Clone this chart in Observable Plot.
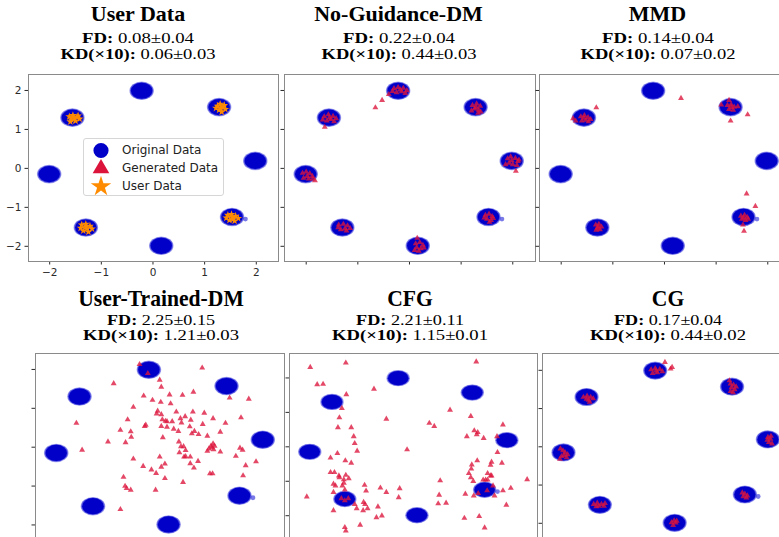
<!DOCTYPE html>
<html>
<head>
<meta charset="utf-8">
<script src="https://cdn.jsdelivr.net/npm/d3@7"></script>
<script src="https://cdn.jsdelivr.net/npm/@observablehq/plot@0.6"></script>
<style>
  html, body { margin: 0; padding: 0; background: white; }
  #root { position: relative; width: 779px; height: 537px; overflow: hidden; background: white; }
  .plotbox { position: absolute; }
  .tline { position: absolute; white-space: nowrap; font-family: "Liberation Serif", "Times New Roman", serif; color: #000; transform-origin: center; }
  .legend { position: absolute; background: rgba(255,255,255,0.85); border: 1px solid #d6d6d6; border-radius: 3px; box-sizing: border-box; font-family: "DejaVu Sans", sans-serif; font-size: 12px; color: #222; }
  .legend .item { position: absolute; left: 0; white-space: nowrap; }
</style>
</head>
<body>
<div id="root"></div>
<script>
// ---------- text ----------
const panelNames = ["User Data", "No-Guidance-DM", "MMD", "User-Trained-DM", "CFG", "CG"];
const fdValues = ["0.08±0.04", "0.22±0.04", "0.14±0.04", "2.25±0.15", "2.21±0.11", "0.17±0.04"];
const kdValues = ["0.06±0.03", "0.44±0.03", "0.07±0.02", "1.21±0.03", "1.15±0.01", "0.44±0.02"];
const legendLabels = ["Original Data", "Generated Data", "User Data"];
const tickValues = [-2, -1, 0, 1, 2];

// ---------- data ----------
// centres of the eight Gaussian modes of the original data
const clusterCenters = [[-0.21,1.98],[1.29,1.56],[1.99,0.18],[1.54,-1.26],[0.17,-2.0],[-1.29,-1.53],[-2.0,-0.16],[-1.55,1.29]];
const originalOutliers = [[1.79,-1.30]];

const userData = [
  [-1.62,1.33],[-1.55,1.36],[-1.47,1.32],[-1.42,1.27],[-1.58,1.25],[-1.50,1.22],[-1.60,1.20],[-1.45,1.35],[-1.53,1.29],
  [1.25,1.60],[1.30,1.65],[1.36,1.58],[1.40,1.52],[1.28,1.50],[1.33,1.45],[1.22,1.55],[1.38,1.62],[1.31,1.55],
  [1.45,-1.20],[1.52,-1.18],[1.60,-1.22],[1.65,-1.28],[1.55,-1.30],[1.48,-1.33],[1.58,-1.35],[1.42,-1.27],[1.53,-1.25],
  [-1.38,-1.45],[-1.30,-1.43],[-1.22,-1.48],[-1.18,-1.55],[-1.28,-1.55],[-1.35,-1.60],[-1.25,-1.63],[-1.40,-1.53],[-1.30,-1.50]
];

const genNoGuidance = [
  [-0.30,2.05],[-0.22,2.08],[-0.12,2.06],[-0.05,2.00],[-0.15,1.97],[-0.25,1.95],[-0.33,1.98],[-0.18,2.02],[-0.08,1.93],
  [-0.40,1.90],[-0.53,1.75],[-0.66,1.56],
  [1.22,1.62],[1.30,1.66],[1.37,1.60],[1.26,1.53],[1.34,1.50],[1.20,1.48],[1.38,1.45],[1.29,1.57],[1.33,1.42],
  [1.90,0.25],[1.96,0.30],[2.05,0.26],[2.10,0.18],[1.93,0.14],[2.00,0.10],[2.08,0.08],[1.98,0.20],[2.12,0.22],[2.06,-0.07],[1.86,0.10],
  [1.47,-1.20],[1.54,-1.17],[1.60,-1.23],[1.50,-1.30],[1.58,-1.33],[1.45,-1.27],[1.55,-1.38],[1.62,-1.28],
  [0.12,-1.93],[0.20,-1.90],[0.26,-1.97],[0.14,-2.03],[0.22,-2.06],[0.28,-2.04],[0.10,-2.10],[0.18,-2.12],[0.15,-1.79],
  [-1.37,-1.45],[-1.28,-1.43],[-1.20,-1.47],[-1.15,-1.54],[-1.25,-1.55],[-1.33,-1.57],[-1.22,-1.60],[-1.38,-1.52],
  [-2.07,-0.12],[-2.00,-0.09],[-1.93,-0.13],[-1.88,-0.20],[-1.98,-0.20],[-2.05,-0.25],[-1.95,-0.27],[-1.87,-0.27],[-1.83,-0.31],
  [-1.65,1.33],[-1.57,1.38],[-1.48,1.34],[-1.42,1.28],[-1.52,1.26],[-1.60,1.22],[-1.46,1.20],[-1.68,1.25],[-1.55,1.30],[-1.64,1.06]
];

const genMMD = [
  [-1.62,1.33],[-1.55,1.36],[-1.48,1.31],[-1.43,1.26],[-1.52,1.24],[-1.60,1.22],[-1.47,1.20],[-1.56,1.29],
  [-1.32,1.56],[-1.77,1.28],[-1.72,1.22],
  [1.22,1.62],[1.29,1.64],[1.35,1.58],[1.25,1.52],[1.33,1.50],[1.30,1.57],
  [1.25,1.75],[1.10,1.63],[1.42,1.59],[1.28,1.22],[1.61,1.38],[0.32,1.80],
  [1.48,-1.22],[1.55,-1.20],[1.60,-1.25],[1.50,-1.30],[1.57,-1.33],[1.53,-1.27],[1.62,-1.30],
  [1.59,-0.65],[1.76,-0.97],[1.54,-1.61],[1.52,-1.45],
  [-1.33,-1.45],[-1.27,-1.43],[-1.22,-1.50],[-1.30,-1.53],[-1.25,-1.57],[-1.32,-1.58],[-1.28,-1.50]
];

const genUserTrained = [
  [-0.40,2.13],[-0.24,1.90],[0.81,2.04],[-0.90,1.64],[-0.01,1.73],[0.02,1.55],[-0.32,1.32],[0.18,1.35],[0.43,1.34],[0.64,1.42],
  [1.34,1.27],[1.71,1.24],[-0.15,1.21],[0.01,1.16],[0.20,1.12],[-0.52,1.03],[-0.05,0.93],[-0.07,0.86],[0.02,0.84],[0.31,0.91],
  [0.63,0.91],[0.85,0.88],[-0.63,0.71],[0.04,0.71],[0.10,0.67],[0.13,0.66],[0.23,0.66],[0.39,0.74],[0.48,0.79],[0.59,0.70],
  [1.02,0.74],[1.26,0.62],[1.56,0.76],[-1.62,0.62],[-0.28,0.57],[-0.30,0.54],[0.02,0.54],[0.13,0.52],[0.26,0.47],[0.41,0.63],
  [0.57,0.53],[0.82,0.59],[-0.77,0.44],[-0.57,0.40],[0.35,0.41],[0.61,0.35],[0.66,0.41],[0.74,0.33],[0.91,0.29],[1.16,0.39],
  [-0.56,0.26],[0.05,0.25],[-1.01,0.14],[-0.67,0.12],[0.36,0.14],[0.40,0.02],[0.45,0.02],[1.02,0.09],[0.98,0.03],[0.94,-0.04],
  [0.91,-0.10],[1.03,-0.06],[1.16,-0.12],[-1.51,-0.07],[0.37,-0.14],[0.49,-0.08],[0.46,-0.25],[0.49,-0.24],[0.58,-0.25],[1.54,-0.02],
  [1.59,-0.07],[1.46,-0.23],[-0.52,-0.30],[-0.01,-0.25],[0.09,-0.43],[0.02,-0.51],[-0.33,-0.49],[-0.17,-0.58],[-0.08,-0.67],[0.58,-0.42],
  [0.73,-0.36],[0.65,-0.53],[0.96,-0.68],[1.01,-0.68],[1.65,-0.47],[1.85,-0.37],[1.60,-0.73],[-0.71,-0.77],[0.09,-0.80],[0.44,-0.90],
  [-0.68,-1.00],[-0.65,-1.06],[-0.57,-1.10],[-0.09,-1.10],[-0.77,-1.60],[1.00,-0.01],[1.05,0.03]
];

const genCFG = [
  [-2.00,2.31],[-1.28,2.44],[1.36,2.47],[-1.86,1.81],[-1.74,1.82],[-0.71,1.68],[-1.27,1.52],[-1.36,1.12],[-1.41,0.85],[-1.44,0.56],
  [-1.17,0.56],[-1.12,0.30],[-1.10,0.10],[-1.05,-0.12],[-1.59,-0.32],[-1.45,-0.19],[-1.29,-0.40],[-1.17,-0.47],[-0.46,0.81],[-0.04,-0.08],
  [0.41,0.69],[0.51,0.60],[0.83,1.07],[1.25,0.89],[1.32,0.47],[1.17,0.30],[1.37,0.36],[1.39,0.42],[1.51,0.25],[1.90,0.64],
  [1.78,0.30],[1.79,-0.16],[1.88,-0.47],[1.38,-0.40],[1.27,-0.52],[1.67,-0.44],[1.65,-0.53],[1.26,-0.64],[1.21,-0.77],[1.25,-0.89],
  [1.30,-1.00],[1.59,-0.77],[1.65,-0.84],[1.67,-0.84],[1.50,-0.96],[1.55,-0.96],[1.59,-0.96],[2.39,-0.95],[2.06,-1.20],[1.90,-1.27],
  [1.70,-1.13],[1.58,-1.27],[1.40,-1.35],[1.14,-1.37],[1.31,-1.42],[1.73,-1.42],[1.97,-1.69],[1.42,-2.02],[1.12,-2.07],[1.53,-2.35],
  [0.63,-0.98],[0.61,-1.40],[0.59,-1.65],[0.75,-1.63],[-0.19,-1.21],[-0.21,-1.47],[-0.46,-1.32],[-0.58,-1.19],[-0.90,-1.11],[-0.87,-1.28],
  [-0.63,-1.74],[-0.55,-2.00],[-0.66,-2.05],[-0.99,-2.27],[-1.59,-0.74],[-1.51,-0.74],[-1.42,-0.84],[-1.41,-0.89],[-1.28,-0.82],[-1.22,-0.92],
  [-1.32,-0.95],[-1.53,-1.08],[-1.49,-1.13],[-1.35,-1.13],[-1.32,-1.05],[-1.30,-1.25],[-1.53,-1.32],[-1.37,-1.50],[-1.30,-1.56],[-1.23,-1.50],
  [-1.10,-1.67],[-1.06,-1.79],[-0.92,-1.61],[-0.89,-1.67],[-0.84,-1.79],[-0.93,-1.85],[-1.53,-1.85],[-2.07,-1.45],[-1.30,-2.34],[-1.28,-2.44]
];

const genCG = [
  [-0.30,2.02],[-0.22,2.05],[-0.13,2.03],[-0.08,1.97],[-0.18,1.94],[-0.27,1.92],[-0.20,1.99],[-0.03,2.21],[0.11,2.08],[0.08,2.04],
  [1.25,1.65],[1.31,1.62],[1.27,1.55],[1.33,1.50],[1.25,1.45],[1.30,1.42],[1.36,1.57],[1.23,1.73],
  [1.98,0.25],[2.03,0.20],[2.00,0.12],[2.06,0.08],[2.04,0.28],[1.97,0.18],
  [1.48,-1.20],[1.53,-1.23],[1.58,-1.28],[1.50,-1.30],[1.56,-1.33],
  [0.15,-1.93],[0.10,-1.98],[0.18,-1.99],[0.13,-2.05],[0.20,-1.94],
  [-1.42,-1.50],[-1.35,-1.47],[-1.27,-1.50],[-1.20,-1.48],[-1.32,-1.55],[-1.22,-1.55],[-1.37,-1.56],
  [-2.07,-0.05],[-2.02,-0.10],[-1.98,-0.15],[-1.93,-0.20],[-2.00,-0.22],[-1.95,-0.28],[-2.05,-0.25],[-2.08,-0.32],
  [-1.62,1.30],[-1.55,1.33],[-1.48,1.30],[-1.43,1.26],[-1.52,1.22],[-1.56,1.25],[-1.50,1.17]
];

// ---------- colours ----------
const blueCore = "#0000c8", blueHalo = "#2020d8", genColor = "#dc143c", userColor = "#ff8c00";

// ---------- layout ----------
const M = {left: 30, right: 4, top: 4, bottom: 22};
const panels = [
  {left: 28,  top: 74,  w: 250, h: 187, xd: [-2.41, 2.43], yd: [-2.39, 2.41], labels: true,  gen: [],             user: userData, cx: 138,   row: 0},
  {left: 284, top: 74,  w: 251, h: 187, xd: [-2.42, 2.44], yd: [-2.39, 2.41], labels: false, gen: genNoGuidance,  user: [],       cx: 398.5, row: 0},
  {left: 539, top: 74,  w: 251, h: 187, xd: [-2.42, 2.44], yd: [-2.39, 2.41], labels: false, gen: genMMD,         user: [],       cx: 657.5, row: 0},
  {left: 35,  top: 353, w: 249, h: 187, xd: [-2.41, 2.40], yd: [-2.40, 2.41], labels: false, gen: genUserTrained, user: [],       cx: 161,   row: 1},
  {left: 289, top: 353, w: 248, h: 187, xd: [-2.42, 2.60], yd: [-2.72, 2.71], labels: false, gen: genCFG,         user: [],       cx: 410,   row: 1},
  {left: 542, top: 353, w: 250, h: 187, xd: [-2.42, 2.46], yd: [-2.45, 2.44], labels: false, gen: genCG,          user: [],       cx: 668,   row: 1}
];

const root = document.getElementById("root");
const haloR = 0.238, midR = 0.225, coreR = 0.208;

panels.forEach((p, i) => {
  const axisOpts = (dom) => ({
    domain: dom, ticks: tickValues, tickSize: 3.5, tickPadding: 3.5, label: null,
    tickFormat: p.labels ? (d) => d3.format("d")(d).replace("-", "\u2212") : () => ""
  });
  const chart = Plot.plot({
    width: M.left + p.w + M.right,
    height: M.top + p.h + M.bottom,
    marginLeft: M.left, marginRight: M.right, marginTop: M.top, marginBottom: M.bottom,
    x: axisOpts(p.xd),
    y: axisOpts(p.yd),
    style: {background: "transparent", overflow: "visible", fontFamily: "DejaVu Sans, sans-serif", fontSize: "10.5px", color: "#2a2a2a", maxWidth: "none"},
    marks: [
      Plot.rect(clusterCenters, {x1: d => d[0] - haloR, x2: d => d[0] + haloR, y1: d => d[1] - haloR, y2: d => d[1] + haloR, rx: 100, fill: blueHalo, fillOpacity: 0.4}),
      Plot.rect(clusterCenters, {x1: d => d[0] - midR, x2: d => d[0] + midR, y1: d => d[1] - midR, y2: d => d[1] + midR, rx: 100, fill: blueHalo, fillOpacity: 0.6}),
      Plot.rect(clusterCenters, {x1: d => d[0] - coreR, x2: d => d[0] + coreR, y1: d => d[1] - coreR, y2: d => d[1] + coreR, rx: 100, fill: blueCore}),
      Plot.dot(originalOutliers, {x: d => d[0], y: d => d[1], r: 2.4, fill: blueHalo, fillOpacity: 0.6}),
      Plot.dot(p.user, {x: d => d[0], y: d => d[1], symbol: "star", r: 2.5, fill: userColor}),
      Plot.dot(p.gen, {x: d => d[0], y: d => d[1], symbol: "triangle", r: 2.2, fill: genColor, fillOpacity: 0.78}),
      Plot.frame({stroke: "#8a8a8a"})
    ]
  });
  const box = document.createElement("div");
  box.className = "plotbox";
  box.style.left = (p.left - M.left) + "px";
  box.style.top = (p.top - M.top) + "px";
  box.appendChild(chart);
  root.appendChild(box);
});

// ---------- titles ----------
function addLine(html, cx, baseline, size, targetW, scale) {
  const el = document.createElement("div");
  el.className = "tline";
  el.style.fontSize = size + "px";
  el.style.lineHeight = size + "px";
  el.style.left = cx + "px";
  el.style.top = (baseline - 0.8375 * size) + "px";
  el.innerHTML = html;
  root.appendChild(el);
  const w = el.getBoundingClientRect().width;
  const k = targetW ? targetW / w : scale;
  el.style.transform = `translateX(-50%) scaleX(${k})`;
}
panels.forEach((p, i) => {
  const r = p.row;
  const base = r === 0 ? {t: 21, fd: 43.3, kd: 60, ts: 22, fs: 15, tk: 1, fdw: 112, kdw: 155}
                       : {t: 306, fd: 326, kd: 340.5, ts: 24, fs: 14, tk: 0.9, fdw: 108, kdw: 156};
  addLine(`<b>${panelNames[i]}</b>`, p.cx, base.t, base.ts, null, base.tk);
  addLine(`<b>FD:</b> ${fdValues[i]}`, p.cx, base.fd, base.fs, base.fdw);
  addLine(`<b>KD(×10):</b> ${kdValues[i]}`, p.cx, base.kd, base.fs, base.kdw);
});

// ---------- legend (inside first panel) ----------
const legend = document.createElement("div");
legend.className = "legend";
Object.assign(legend.style, {left: "83px", top: "138px", width: "141px", height: "58px"});
const legendSymbols = [d3.symbolCircle, d3.symbolTriangle, d3.symbolStar];
const legendColors = [blueCore, genColor, userColor];
const legendSizes = [180, 120, 130];
legendLabels.forEach((lab, j) => {
  const item = document.createElement("div");
  item.className = "item";
  item.style.top = (3 + j * 18) + "px";
  item.style.height = "18px";
  const path = d3.symbol(legendSymbols[j], legendSizes[j])();
  item.innerHTML = `<svg width="30" height="18" style="position:absolute;left:2px;top:0;overflow:visible"><path transform="translate(15,8.5)" d="${path}" fill="${legendColors[j]}"></path></svg><span style="position:absolute;left:38px;top:1px;line-height:15px">${lab}</span>`;
  legend.appendChild(item);
});
root.appendChild(legend);
</script>
</body>
</html>
